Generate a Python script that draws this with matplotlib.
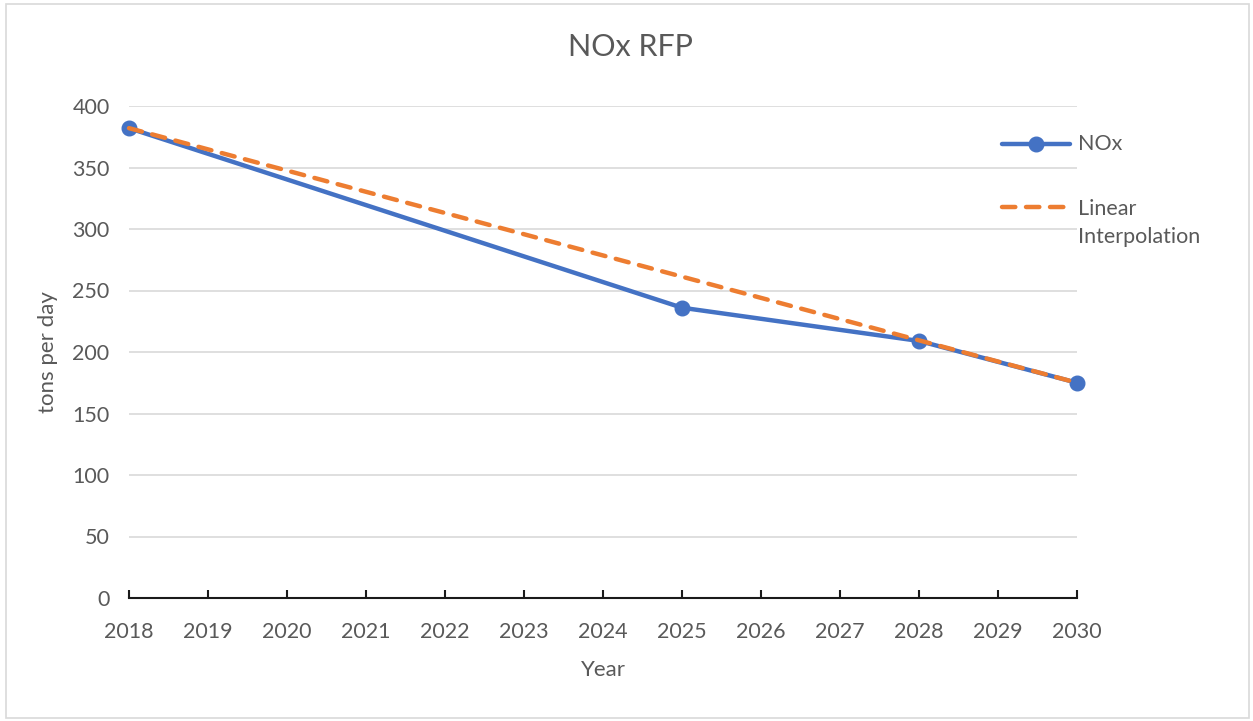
import matplotlib
matplotlib.use("Agg")
import matplotlib.pyplot as plt
from matplotlib.patches import Rectangle
from matplotlib.lines import Line2D

years = [2018, 2025, 2028, 2030]
nox = [382, 236, 209, 175]
interp_years = [2018, 2030]
interp_vals = [382, 175]
xticks = list(range(2018, 2031))
yticks = list(range(0, 401, 50))
legend_labels = ['NOx', 'Linear\nInterpolation']

plt.rcParams['font.family'] = ['Lato', 'DejaVu Sans']
txt = '#595959'
blue = '#4472C4'
orange = '#ED7D31'

W, H = 1253, 721
fig = plt.figure(figsize=(W / 100, H / 100), dpi=100)
fig.patches.append(Rectangle((6 / W, 3 / H), (1249 - 6) / W, (717 - 3) / H,
                             transform=fig.transFigure, fill=False,
                             edgecolor='#d9d9d9', lw=1.2))
ax = fig.add_axes([129 / W, 1 - 598 / H, (1077 - 129) / W, (598 - 106) / H])

l1, = ax.plot(years, nox, color=blue, lw=3.2, marker='o', markersize=10.5,
              solid_capstyle='round', zorder=3, clip_on=False)
l2, = ax.plot(interp_years, interp_vals, color=orange, lw=3.2,
              dash_capstyle='round', zorder=4, clip_on=False)
l2.set_dashes((3, 2.4))

ax.set_xlim(2018, 2030)
ax.set_ylim(0, 400)
ax.set_xticks(xticks)
ax.set_yticks(yticks)
ax.grid(axis='y', color='#d9d9d9', lw=1.2)
ax.set_axisbelow(True)
for s in ['left', 'right', 'top']:
    ax.spines[s].set_visible(False)
ax.spines['bottom'].set_color('#1a1a1a')
ax.spines['bottom'].set_linewidth(1.5)
ax.spines['bottom'].set_zorder(2)
ax.tick_params(axis='x', direction='in', length=6, width=1.5, color='#1a1a1a',
               labelsize=15.5, labelcolor=txt, pad=17)
ax.tick_params(axis='y', length=0, labelsize=15.5, labelcolor=txt, pad=14)

ax.set_xlabel('Year', fontsize=16, color=txt, labelpad=13)
ax.set_ylabel('tons per day', fontsize=16, color=txt, labelpad=10)
fig.text(630 / W, 1 - 47 / H, 'NOx RFP', ha='center', va='center',
         fontsize=22, color=txt)

# legend (manual layout, Excel style)
x0, x1, xt = 1002 / W, 1070 / W, 1078 / W
y_nox = 1 - 144 / H
y_lin = 1 - 207 / H
fig.add_artist(Line2D([x0, x1], [y_nox, y_nox], transform=fig.transFigure,
                      color=blue, lw=3.2, solid_capstyle='round'))
fig.add_artist(Line2D([(x0 + x1) / 2], [y_nox], transform=fig.transFigure,
                      color=blue, marker='o', markersize=10.5, lw=0))
ld = Line2D([x0, x1], [y_lin, y_lin], transform=fig.transFigure,
            color=orange, lw=3.2, dash_capstyle='round')
ld.set_dashes((3, 2.4))
fig.add_artist(ld)
fig.text(xt, y_nox, legend_labels[0], ha='left', va='center',
         fontsize=15.5, color=txt)
fig.text(xt, y_lin + 8 / H, legend_labels[1], ha='left', va='top',
         fontsize=15.5, color=txt, linespacing=1.5)

fig.savefig('out.png', dpi=100)
